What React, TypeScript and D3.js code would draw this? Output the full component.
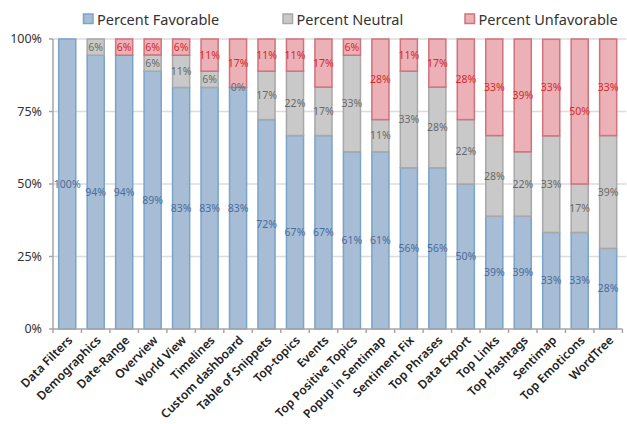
import React from "react";
import * as d3 from "d3";

const categories = ["Data Filters","Demographics","Date-Range","Overview","World View","Timelines","Custom dashboard","Table of Snippets","Top-topics","Events","Top Positive Topics","Popup in Sentimap","Sentiment Fix","Top Phrases","Data Export","Top Links","Top Hashtags","Sentimap","Top Emoticons","WordTree"];
const favorable: (number | null)[] = [100, 94.4, 94.4, 88.9, 83.3, 83.3, 83.3, 72.2, 66.7, 66.7, 61.1, 61.1, 55.6, 55.6, 50, 38.9, 38.9, 33.3, 33.3, 27.8];
const neutral: (number | null)[] = [null, 5.6, null, 5.6, 11.1, 5.6, 0, 16.7, 22.2, 16.7, 33.3, 11.1, 33.3, 27.8, 22.2, 27.8, 22.2, 33.3, 16.7, 38.9];
const unfavorable: (number | null)[] = [null, null, 5.6, 5.6, 5.6, 11.1, 16.7, 11.1, 11.1, 16.7, 5.6, 27.8, 11.1, 16.7, 27.8, 33.3, 38.9, 33.3, 50, 33.3];
const seriesNames = ["Percent Favorable", "Percent Neutral", "Percent Unfavorable"];
const yTicks = [0, 25, 50, 75, 100];

const styles = [
  { fill: "#a7bdd5", stroke: "#79a4cc", text: "#4a6c9b" },
  { fill: "#c9c9c9", stroke: "#a8a8a8", text: "#6a6a6a" },
  { fill: "#ecb0b7", stroke: "#d0737b", text: "#d42a2a" },
];

const FONT = "'Noto Sans', 'Open Sans', sans-serif";

export default function App() {
  const W = 627, H = 424;
  const left = 53, right = 622.4, top = 39, bottom = 329;
  const x = d3.scaleBand<string>().domain(categories).range([left, right]).paddingInner(0.4).paddingOuter(0.2);
  const y = d3.scaleLinear().domain([0, 100]).range([bottom, top]);
  const all = [favorable, neutral, unfavorable];

  const segs: any[] = [];
  categories.forEach((c, i) => {
    let acc = 0;
    all.forEach((arr, s) => {
      const v = arr[i];
      if (v === null) return;
      const y0 = acc, y1 = Math.min(100, acc + v);
      acc += v;
      segs.push({ c, s, v, y0, y1 });
    });
  });

  const legendX = [83.5, 283, 465];

  return (
    <svg width={W} height={H} style={{ position: "absolute", left: 0, top: 0, fontFamily: FONT }}>
      <rect width={W} height={H} fill="#fff" />
      {yTicks.filter(t => t > 0).map(t => (
        <line key={t} x1={left} x2={right + 4} y1={y(t)} y2={y(t)} stroke="#dcdcdc" strokeWidth={1.5} />
      ))}
      {segs.map((d, k) => (
        <rect key={k} x={x(d.c)!} width={x.bandwidth()} y={y(d.y1)} height={Math.max(0, y(d.y0) - y(d.y1))}
          fill={styles[d.s].fill} stroke={styles[d.s].stroke} strokeWidth={1.5} />
      ))}
      {segs.map((d, k) => (
        <text key={"t" + k} x={x(d.c)! + x.bandwidth() / 2} y={(y(d.y0) + y(d.y1)) / 2} dy="0.35em"
          textAnchor="middle" fontSize={10.5} fill={styles[d.s].text}>{Math.round(d.v)}%</text>
      ))}
      <line x1={left} x2={left} y1={top} y2={bottom} stroke="#a6a6a6" strokeWidth={1.5} />
      <line x1={left} x2={right} y1={bottom} y2={bottom} stroke="#a6a6a6" strokeWidth={1.5} />
      {yTicks.map(t => (
        <g key={t}>
          <line x1={left - 4} x2={left} y1={y(t)} y2={y(t)} stroke="#a6a6a6" strokeWidth={1.5} />
          <text x={42} y={y(t)} dy="0.35em" textAnchor="end" fontSize={12.5} fill="#333">{t}%</text>
        </g>
      ))}
      {d3.range(categories.length + 1).map(i => {
        const xx = left + i * x.step();
        return <line key={i} x1={xx} x2={xx} y1={bottom} y2={bottom + 4} stroke="#a6a6a6" strokeWidth={1.5} />;
      })}
      {categories.map(c => {
        const cx = x(c)! + x.bandwidth() / 2 + 3;
        return (
          <text key={c} transform={`translate(${cx},${bottom + 9}) rotate(-45)`} textAnchor="end" dy="0.35em"
            fontSize={12} fontWeight={600} fill="#222">{c}</text>
        );
      })}
      {seriesNames.map((n, s) => (
        <g key={n}>
          <rect x={legendX[s]} y={14} width={9.5} height={9.5} fill={styles[s].fill} stroke={styles[s].stroke} strokeWidth={1.5} />
          <text x={legendX[s] + 13.5} y={24.5} fontSize={14.5} fill="#333">{n}</text>
        </g>
      ))}
    </svg>
  );
}
